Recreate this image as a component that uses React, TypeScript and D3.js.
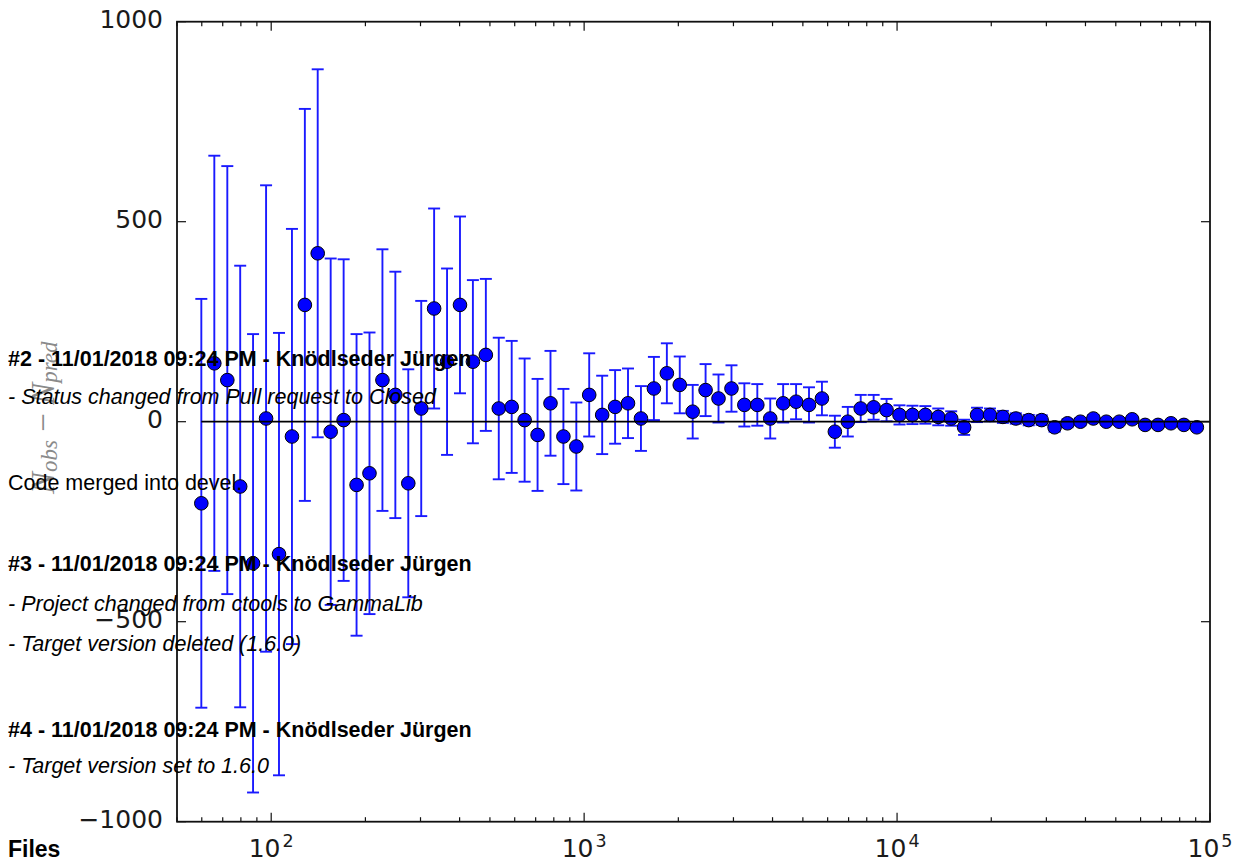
import React, { useEffect, useRef } from 'react';
import * as d3 from 'd3';

// energy of each bin (x, log axis)
const energies = [
  59.8, 65.8, 72.4, 79.6, 87.5, 96.3, 105.9, 116.5, 128.1, 140.8,
  154.9, 170.4, 187.4, 206.1, 226.7, 249.3, 274.2, 301.6, 331.6, 364.7,
  401.1, 441.1, 485.2, 533.6, 586.8, 645.4, 709.9, 780.7, 858.6, 944.2,
  1038, 1142, 1256, 1381, 1519, 1671, 1838, 2021, 2223, 2444,
  2688, 2957, 3251, 3576, 3933, 4325, 4757, 5231, 5753, 6327,
  6959, 7653, 8416, 9256, 10180, 11196, 12312, 13541, 14893, 16378,
  18012, 19809, 21785, 23958, 26348, 28980, 31870, 35050, 38547, 42392,
  46621, 51286, 56403, 62030, 68218, 75040, 82525, 90762,
];

// N_obs - N_pred
const residuals = [
  -204, 146, 104, -162, -354, 8, -331, -37, 292, 421,
  -25, 4, -158, -129, 104, 67, -154, 33, 283, 150,
  292, 150, 167, 33, 37, 4, -33, 46, -37, -62,
  67, 17, 37, 46, 8, 83, 121, 92, 25, 79,
  58, 83, 42, 42, 8, 46, 50, 42, 58, -25,
  0, 33, 36, 29, 17, 17, 17, 12, 8, -14,
  17, 17, 12, 8, 4, 4, -14, -4, 0, 8,
  0, 0, 6, -8, -8, -4, -8, -14,
];

// symmetric error (1 sigma)
const errors = [
  511, 519, 535, 552, 573, 583, 553, 519, 490, 460,
  433, 402, 377, 352, 327, 308, 285, 269, 250, 233,
  221, 204, 190, 177, 165, 154, 140, 131, 119, 110,
  104, 98, 92, 87, 81, 79, 75, 71, 67, 65,
  60, 58, 54, 52, 50, 48, 44, 44, 42, 40,
  37, 34, 31, 28, 24, 23, 22, 21, 18, 19,
  18, 16, 15, 13, 13, 12, 11, 10, 9, 9,
  8, 7, 7, 6, 6, 5, 5, 5,
];

const yTickValues = [-1000, -500, 0, 500, 1000];
const xDecades = [2, 3, 4, 5];

const App = () => {
  const ref = useRef<SVGSVGElement>(null);
  const svgWidth = 1239;
  const svgHeight = 863;
  const margin = { top: 21.7, right: 29, bottom: 41.3, left: 177 };
  const plotRight = svgWidth - margin.right;
  const plotBottom = svgHeight - margin.bottom;

  useEffect(() => {
    const svg = d3.select(ref.current);
    svg.selectAll('*').remove();

    const x = d3.scaleLog().domain([50, 1e5]).range([margin.left, plotRight]);
    const y = d3.scaleLinear().domain([-1000, 1000]).range([plotBottom, margin.top]);

    const points = energies.map((e, i) => ({ e, v: residuals[i], err: errors[i] }));

    svg.append('rect')
      .attr('width', svgWidth).attr('height', svgHeight).attr('fill', '#fff');

    // error bars
    const cap = 6;
    const eb = svg.append('g').attr('stroke', '#1a1aff').attr('stroke-width', 1.9);
    points.forEach(d => {
      const cx = x(d.e);
      const y1 = y(d.v + d.err);
      const y2 = y(d.v - d.err);
      eb.append('line').attr('x1', cx).attr('x2', cx).attr('y1', y1).attr('y2', y2);
      eb.append('line').attr('x1', cx - cap).attr('x2', cx + cap).attr('y1', y1).attr('y2', y1);
      eb.append('line').attr('x1', cx - cap).attr('x2', cx + cap).attr('y1', y2).attr('y2', y2);
    });

    // markers
    svg.append('g')
      .selectAll('circle')
      .data(points)
      .enter()
      .append('circle')
      .attr('cx', d => x(d.e))
      .attr('cy', d => y(d.v))
      .attr('r', 6.8)
      .attr('fill', '#0000ff')
      .attr('stroke', '#000')
      .attr('stroke-width', 1);

    // zero line
    svg.append('line')
      .attr('x1', x(energies[0])).attr('x2', x(1e5))
      .attr('y1', y(0)).attr('y2', y(0))
      .attr('stroke', '#000').attr('stroke-width', 1.8);

    // ticks (inward, all four sides)
    const ticks = svg.append('g').attr('stroke', '#111').attr('stroke-width', 1.2);
    x.ticks().forEach(t => {
      const major = Math.abs(Math.log10(t) - Math.round(Math.log10(t))) < 1e-9;
      const len = major ? 9 : 4.5;
      const tx = x(t);
      ticks.append('line').attr('x1', tx).attr('x2', tx).attr('y1', plotBottom).attr('y2', plotBottom - len);
      ticks.append('line').attr('x1', tx).attr('x2', tx).attr('y1', margin.top).attr('y2', margin.top + len);
    });
    yTickValues.forEach(t => {
      const ty = y(t);
      ticks.append('line').attr('x1', margin.left).attr('x2', margin.left + 9).attr('y1', ty).attr('y2', ty);
      ticks.append('line').attr('x1', plotRight).attr('x2', plotRight - 9).attr('y1', ty).attr('y2', ty);
    });

    // frame
    svg.append('rect')
      .attr('x', margin.left).attr('y', margin.top)
      .attr('width', plotRight - margin.left).attr('height', plotBottom - margin.top)
      .attr('fill', 'none').attr('stroke', '#111').attr('stroke-width', 1.8);

    // y tick labels
    svg.append('g')
      .selectAll('text')
      .data(yTickValues)
      .enter()
      .append('text')
      .attr('x', margin.left - 14)
      .attr('y', d => y(d) + 6)
      .attr('text-anchor', 'end')
      .attr('font-family', 'DejaVu Sans')
      .attr('font-size', 25)
      .attr('fill', '#1a1a1a')
      .text(d => (d < 0 ? '\u2212' + Math.abs(d) : String(d)));

    // x tick labels 10^n
    xDecades.forEach(p => {
      const t = svg.append('text')
        .attr('x', x(Math.pow(10, p)))
        .attr('y', plotBottom + 35)
        .attr('text-anchor', 'middle')
        .attr('font-family', 'DejaVu Sans')
        .attr('font-size', 25)
        .attr('fill', '#1a1a1a');
      t.append('tspan').text('10');
      t.append('tspan').attr('dy', -10).attr('dx', 2).attr('font-size', 17.5).text(String(p));
    });

    // y axis label
    const yl = svg.append('text')
      .attr('transform', `translate(43,${y(0) - 4}) rotate(-90)`)
      .attr('text-anchor', 'middle')
      .attr('dominant-baseline', 'central')
      .attr('font-family', 'Liberation Serif')
      .attr('font-style', 'italic')
      .attr('font-size', 33)
      .attr('fill', '#8a8a8a');
    yl.append('tspan').text('N');
    yl.append('tspan').attr('dy', 6).attr('font-size', 23).text('obs');
    yl.append('tspan').attr('dy', -6).attr('font-style', 'normal').text(' \u2212 ');
    yl.append('tspan').text('N');
    yl.append('tspan').attr('dy', 6).attr('font-size', 23).text('pred');

    // page text overlaid on the figure
    const notes = svg.append('g')
      .attr('font-family', 'Liberation Sans, Arial, sans-serif')
      .attr('fill', '#000');
    const note = (txt: string, by: number, kind: string, size = 21.5) => {
      notes.append('text')
        .attr('x', 8)
        .attr('y', by)
        .attr('font-size', size)
        .attr('font-weight', kind === 'bold' ? 'bold' : 'normal')
        .attr('font-style', kind === 'italic' ? 'italic' : 'normal')
        .text(txt);
    };
    note('#2 - 11/01/2018 09:24 PM - Knödlseder Jürgen', 366, 'bold');
    note('- Status changed from Pull request to Closed', 404, 'italic');
    note('Code merged into devel.', 490, 'normal');
    note('#3 - 11/01/2018 09:24 PM - Knödlseder Jürgen', 571, 'bold');
    note('- Project changed from ctools to GammaLib', 611, 'italic');
    note('- Target version deleted (1.6.0)', 651, 'italic');
    note('#4 - 11/01/2018 09:24 PM - Knödlseder Jürgen', 737, 'bold');
    note('- Target version set to 1.6.0', 773, 'italic');
    note('Files', 857, 'bold', 23);
  }, []);

  return (
    <div style={{ position: 'absolute', left: 0, top: 0 }}>
      <svg ref={ref} width={svgWidth} height={svgHeight} style={{ display: 'block' }}>
        {/* drawn by d3 */}
      </svg>
    </div>
  );
};

export default App;
